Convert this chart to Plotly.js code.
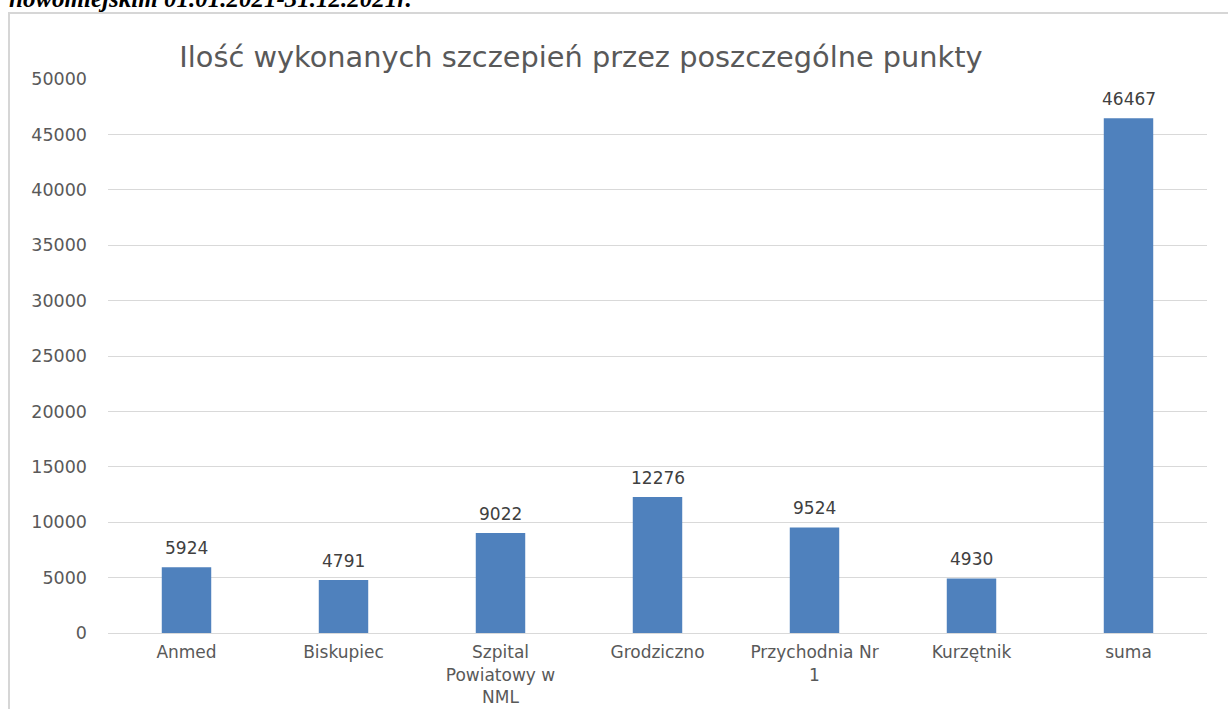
<!DOCTYPE html>
<html>
<head>
<meta charset="utf-8">
<script src="https://cdn.plot.ly/plotly-3.0.1.min.js"></script>
<style>
  body { margin: 0; background: #fff; }
  #wrap { position: relative; width: 1228px; height: 709px; overflow: hidden; }
  #frame {
    position: absolute; left: 8px; top: 12px; right: -4px; bottom: -4px;
    border-top: 2px solid #d6d6d6; border-left: 2px solid #d6d6d6;
    pointer-events: none;
  }
</style>
</head>
<body>
<div id="wrap">
  <div id="myDiv"></div>
  <div id="frame"></div>
</div>
<script>
// punkty szczepien i liczba szczepien
const punkty = ["Anmed", "Biskupiec", "Szpital<br>Powiatowy w<br>NML", "Grodziczno", "Przychodnia Nr<br>1", "Kurzętnik", "suma"];
const szczepienia = [5924, 4791, 9022, 12276, 9524, 4930, 46467];
const tytul = "Ilość wykonanych szczepień przez poszczególne punkty";
const naglowek = "nowomiejskim 01.01.2021-31.12.2021r.";

const W = 1228, H = 709;
const margin = { l: 108, r: 21, t: 79, b: 76 };
const plotW = W - margin.l - margin.r;
const plotH = H - margin.t - margin.b;

// etykiety wartosci nad slupkami
const etykiety = punkty.map((p, i) => ({
  x: p,
  y: szczepienia[i],
  text: String(szczepienia[i]),
  showarrow: false,
  yanchor: "bottom",
  yshift: 7,
  font: { family: "DejaVu Sans", size: 17, color: "#404040" },
}));

// obciety tekst naglowka nad wykresem (w oryginale tez przyciety)
etykiety.push({
  xref: "paper", yref: "paper",
  x: (7 - margin.l) / plotW,
  y: (H - margin.b - 14) / plotH,
  xanchor: "left", yanchor: "bottom",
  text: "<b><i>" + naglowek + "</i></b>",
  showarrow: false,
  font: { family: "Liberation Serif", size: 25, color: "#000" },
});

const trace1 = {
  type: "bar",
  x: punkty,
  y: szczepienia,
  marker: { color: "#4F81BD" },
  hoverinfo: "x+y",
};

const layout = {
  width: W,
  height: H,
  margin: margin,
  paper_bgcolor: "#fff",
  plot_bgcolor: "#fff",
  showlegend: false,
  bargap: 0.685,
  title: {
    text: tytul,
    x: 581 / W,
    xanchor: "center",
    y: 1 - 57 / H,
    yanchor: "middle",
    font: { family: "DejaVu Sans", size: 28.8, color: "#595959" },
  },
  xaxis: {
    type: "category",
    showgrid: false,
    showline: true,
    linecolor: "#d9d9d9",
    linewidth: 1,
    ticks: "",
    ticklabelstandoff: 4,
    tickfont: { family: "DejaVu Sans", size: 17, color: "#595959" },
  },
  yaxis: {
    range: [0, 50000],
    dtick: 5000,
    tickformat: "d",
    showgrid: true,
    gridcolor: "#d9d9d9",
    zeroline: true,
    zerolinecolor: "#d9d9d9",
    showline: false,
    ticks: "",
    ticklabelstandoff: 20,
    tickfont: { family: "DejaVu Sans", size: 17.5, color: "#595959" },
  },
  annotations: etykiety,
};

Plotly.newPlot("myDiv", [trace1], layout, { displayModeBar: false, staticPlot: true });
</script>
</body>
</html>
